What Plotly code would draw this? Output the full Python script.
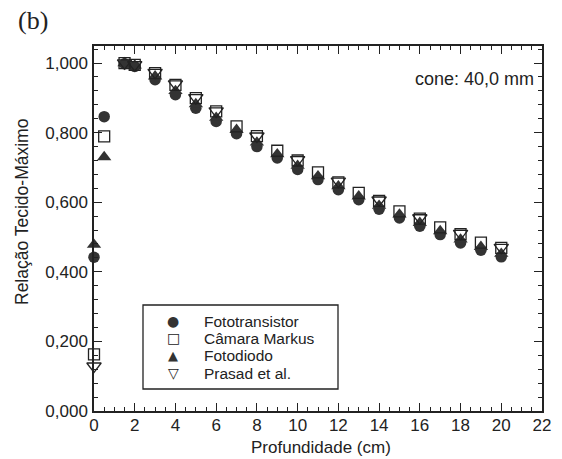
import plotly.graph_objects as go

depth = [0, 0.5, 1.5, 2, 3, 4, 5, 6, 7, 8, 9, 10, 11, 12, 13, 14, 15, 16, 17, 18, 19, 20]
fototransistor = [0.442, 0.846, 0.998, 0.990, 0.952, 0.909, 0.870, 0.832, 0.797, 0.760, 0.727,
                  0.694, 0.665, 0.636, 0.607, 0.580, 0.555, 0.531, 0.507, 0.483, 0.462, 0.443]
camara = [0.163, 0.789, 1.000, 0.995, 0.971, 0.937, 0.899, 0.861, 0.818, 0.790, 0.748,
          0.720, 0.686, 0.657, 0.627, 0.604, 0.574, 0.553, 0.528, 0.508, 0.484, 0.469]
fotodiodo = [0.478, 0.730, 1.000, 0.993, 0.962, 0.920, 0.882, 0.843, 0.808, 0.772, 0.738,
             0.705, 0.675, 0.646, 0.617, 0.590, 0.565, 0.541, 0.517, 0.493, 0.472, 0.452]
depth_prasad = [0, 1.5, 2, 3, 4, 5, 6, 8, 10, 12, 14, 16, 18, 20]
prasad = [0.129, 1.000, 0.995, 0.973, 0.940, 0.900, 0.862, 0.790, 0.722, 0.660, 0.606, 0.555, 0.510, 0.470]

series_names = ["Fototransistor", "Câmara Markus", "Fotodiodo", "Prasad et al."]
legend_glyphs = ["●", "□", "▲", "▽"]
x_ticks = list(range(0, 23, 2))
y_ticks = [0, 0.2, 0.4, 0.6, 0.8, 1.0]
y_ticktext = ["0,000", "0,200", "0,400", "0,600", "0,800", "1,000"]

ink = "#222222"
dark = "#333333"
sans = "Liberation Sans, Arial, sans-serif"

# layout geometry (pixels)
W, H = 562, 459
L, R, T, B = 94, 20, 46, 48
PW, PH = W - L - R, H - T - B


def px(xp):
    return (xp - L) / PW


def py(yp):
    return (H - B - yp) / PH


fig = go.Figure()
fig.add_trace(go.Scatter(x=depth, y=fototransistor, mode="markers", name=series_names[0],
                         cliponaxis=False,
                         marker=dict(symbol="circle", size=11.5, color=dark, line=dict(width=0))))
fig.add_trace(go.Scatter(x=depth, y=fotodiodo, mode="markers", name=series_names[2],
                         cliponaxis=False,
                         marker=dict(symbol="triangle-up", size=12.5, color=dark, line=dict(width=0))))
fig.add_trace(go.Scatter(x=depth, y=camara, mode="markers", name=series_names[1],
                         cliponaxis=False,
                         marker=dict(symbol="square-open", size=11, color=ink, line=dict(width=1.3))))
fig.add_trace(go.Scatter(x=depth_prasad, y=prasad, mode="markers", name=series_names[3],
                         cliponaxis=False,
                         marker=dict(symbol="triangle-down-open", size=12.5, color=ink, line=dict(width=1.3))))

axis_common = dict(showline=True, linecolor=ink, linewidth=1.5, mirror="allticks",
                   ticks="inside", ticklen=8, tickwidth=1.2, tickcolor=ink,
                   showgrid=False, zeroline=False, automargin=False,
                   tickfont=dict(family=sans, size=17, color=ink))

fig.update_xaxes(range=[0, 22], tickvals=x_ticks, ticklabelstandoff=-2,
                 minor=dict(dtick=0.5, ticks="inside", ticklen=4, tickcolor=ink, tickwidth=1),
                 **axis_common)
fig.update_yaxes(range=[0, 1.049], tickvals=y_ticks, ticktext=y_ticktext, ticklabelstandoff=1,
                 minor=dict(dtick=0.04, ticks="inside", ticklen=4, tickcolor=ink, tickwidth=1),
                 **axis_common)

annotations = [
    dict(text="(b)", x=px(16), y=py(21), xanchor="left", yanchor="middle",
         font=dict(family="Liberation Serif, Times New Roman, serif", size=26, color=ink)),
    dict(text="cone: 40,0 mm", x=px(536), y=py(79), xanchor="right", yanchor="middle",
         font=dict(family=sans, size=18, color=ink)),
    dict(text="Profundidade (cm)", x=px(321), y=py(447), xanchor="center", yanchor="middle",
         font=dict(family=sans, size=17, color=ink)),
    dict(text="Relação Tecido-Máximo", x=px(22), y=py(212), xanchor="center", yanchor="middle",
         textangle=-90, font=dict(family=sans, size=17.5, color=ink)),
]
row_y = [321.0, 338.4, 355.8, 373.2]
glyph_fonts = [14, 14, 13, 14]
glyph_colors = [dark, ink, dark, ink]
for name, glyph, yy, gs, gc in zip(series_names, legend_glyphs, row_y, glyph_fonts, glyph_colors):
    annotations.append(dict(text=glyph, x=px(173), y=py(yy), xanchor="center", yanchor="middle",
                            font=dict(family="DejaVu Sans", size=gs, color=gc)))
    annotations.append(dict(text=name, x=px(202), y=py(yy), xanchor="left", yanchor="middle",
                            font=dict(family=sans, size=15.5, color=ink)))
for a in annotations:
    a.update(xref="paper", yref="paper", showarrow=False)

fig.update_layout(
    width=W, height=H,
    margin=dict(l=L, r=R, t=T, b=B),
    paper_bgcolor="white", plot_bgcolor="white",
    showlegend=False,
    annotations=annotations,
    shapes=[dict(type="rect", xref="paper", yref="paper",
                 x0=px(143), x1=px(338), y0=py(389), y1=py(305),
                 line=dict(color=ink, width=1.3), fillcolor="white", layer="below")],
)

fig.write_html("out.html", config={"displayModeBar": False},
               post_script="document.body.style.margin='0';")
